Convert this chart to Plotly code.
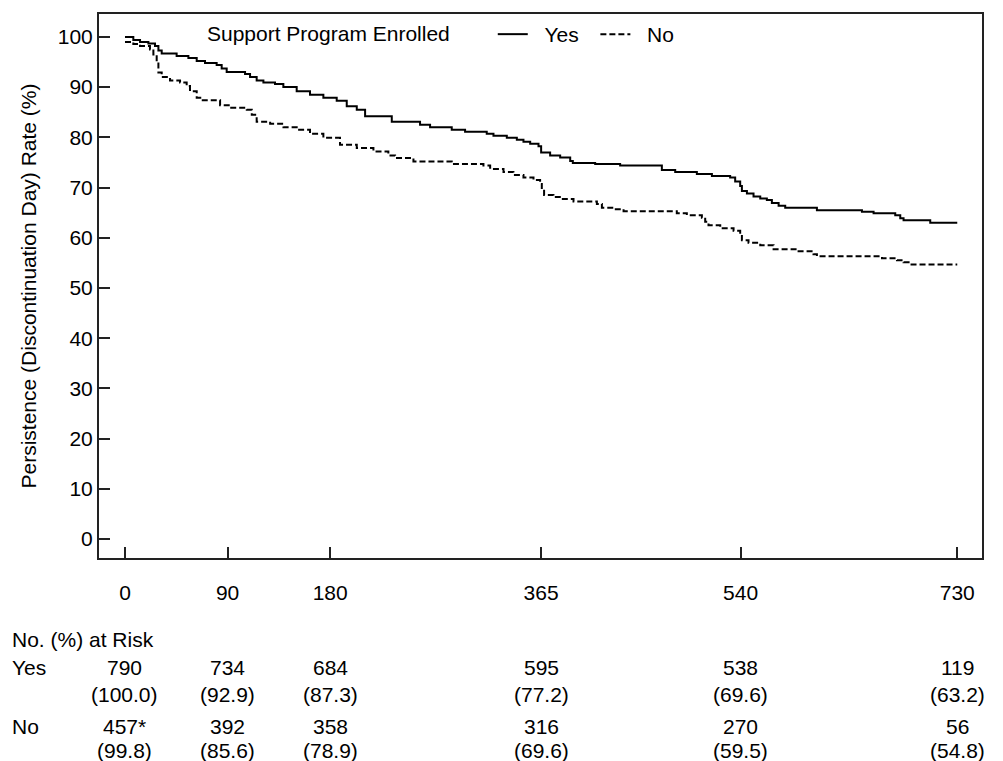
import plotly.graph_objects as go

# Kaplan-Meier style persistence curves
yes_days = [0, 7.3, 13.2, 20.5, 26.3, 29.3, 32.2, 45.3, 55.6, 62.9, 70.2, 80.4, 84.8, 89.2,
            105.3, 109.7, 115.5, 121.4, 131.6, 138.9, 150.6, 162.3, 174, 185.7, 194.5, 203.3,
            210.6, 234, 258.8, 267.6, 286.6, 298.3, 317.3, 323.2, 334.9, 343.7, 349.5, 355.4,
            362.7, 365, 372.9, 381.7, 390.5, 392.8, 412.4, 434.3, 470.9, 482.6, 501.6, 514.8,
            530.8, 535.2, 539.6, 541.1, 545.5, 551.3, 557.2, 563, 567.4, 573.3, 579.1, 606.9,
            646.4, 656.6, 675.6, 680, 682.9, 706.3, 730]
yes_rate = [100, 99.4, 99.0, 98.7, 98.2, 97.3, 96.7, 96.2, 95.8, 95.2, 94.8, 94.4, 93.7, 93.0,
            92.6, 92.0, 91.3, 90.9, 90.6, 90.0, 89.2, 88.5, 87.9, 87.3, 86.2, 85.5,
            84.2, 83.1, 82.5, 82.0, 81.5, 81.1, 80.7, 80.3, 79.9, 79.5, 79.1, 78.7,
            78.2, 77.0, 76.4, 76.0, 75.3, 74.9, 74.7, 74.4, 73.5, 73.1, 72.7, 72.3,
            72.0, 71.2, 70.3, 69.3, 68.8, 68.2, 67.8, 67.5, 66.9, 66.4, 66.0, 65.5,
            65.2, 64.9, 64.5, 63.9, 63.5, 63.0, 63.0]

no_days = [0, 7.3, 13.2, 21.9, 24.9, 27.8, 29.3, 32.2, 39.5, 48.3, 54.1, 57, 62.9, 67.3, 83.4,
           92.2, 106.8, 111.2, 115.5, 127.3, 139, 150.6, 162.3, 174, 188.6, 203.3, 217.9, 231,
           236.9, 253, 286.6, 314.4, 320.3, 332, 340.7, 349.5, 358.3, 364.1, 365.6, 367.6,
           375.8, 383.1, 393.4, 413.9, 418.3, 428.5, 437.3, 484, 492.8, 506, 508.9, 511.8,
           522.1, 533.8, 539.6, 541.1, 546.9, 557.2, 568.9, 590.8, 603.9, 606.9, 664, 677.1,
           682.9, 687.3, 730]
no_rate = [99.0, 98.6, 98.2, 97.5, 96.5, 94.9, 92.9, 92.0, 91.3, 90.9, 90.2, 89.2, 87.9, 87.4, 86.4,
           85.9, 85.5, 84.5, 83.1, 82.7, 82.0, 81.5, 80.7, 79.9, 78.5, 77.9, 77.2, 76.4,
           75.9, 75.2, 74.7, 74.4, 73.7, 73.1, 72.5, 72.0, 71.5, 70.7, 69.6, 68.5,
           68.1, 67.7, 67.2, 66.7, 66.0, 65.7, 65.3, 64.9, 64.5, 64.0, 63.2, 62.5,
           61.9, 61.4, 60.8, 59.5, 59.0, 58.5, 57.7, 57.3, 56.7, 56.3, 55.9, 55.5,
           55.1, 54.7, 54.7]

x_ticks = [0, 90, 180, 365, 540, 730]
y_ticks = [0, 10, 20, 30, 40, 50, 60, 70, 80, 90, 100]

risk_yes_n = ["790", "734", "684", "595", "538", "119"]
risk_yes_pct = ["(100.0)", "(92.9)", "(87.3)", "(77.2)", "(69.6)", "(63.2)"]
risk_no_n = ["457*", "392", "358", "316", "270", "56"]
risk_no_pct = ["(99.8)", "(85.6)", "(78.9)", "(69.6)", "(59.5)", "(54.8)"]

FONT = "Liberation Sans, Arial, sans-serif"
FS = 21

fig = go.Figure()
fig.add_trace(go.Scatter(x=yes_days, y=yes_rate, mode="lines", name="\u00a0\u00a0Yes\u00a0\u00a0",
                         line=dict(color="black", width=2, shape="hv")))
fig.add_trace(go.Scatter(x=no_days, y=no_rate, mode="lines", name="\u00a0\u00a0No",
                         line=dict(color="black", width=2, shape="hv", dash="6px,3px")))

axis_common = dict(showline=True, linecolor="#222222", linewidth=2, mirror=True,
                   ticks="inside", ticklen=11, tickwidth=2, tickcolor="#222222",
                   showgrid=False, zeroline=False,
                   tickfont=dict(family=FONT, size=FS, color="black"))

fig.update_xaxes(range=[-22.8, 751.7], tickmode="array", tickvals=x_ticks,
                 ticktext=[str(v) for v in x_ticks], ticklabelstandoff=15, **axis_common)
fig.update_yaxes(range=[-3.77, 104.56], tickmode="array", tickvals=y_ticks,
                 ticktext=[str(v) for v in y_ticks], ticklabelstandoff=0,
                 title=dict(text="Persistence (Discontinuation Day) Rate (%)",
                            font=dict(family=FONT, size=FS, color="black"), standoff=15),
                 **axis_common)

annotations = []
def row_text(texts, ypaper):
    for xv, t in zip(x_ticks, texts):
        annotations.append(dict(x=xv, xref="x", y=ypaper, yref="paper", text=t,
                                showarrow=False, xanchor="center", yanchor="middle",
                                font=dict(family=FONT, size=FS, color="black")))

label_x = -89 / 883
for txt, yp in [("No. (%) at Risk", -0.150), ("Yes", -0.2015), ("No", -0.3095)]:
    annotations.append(dict(x=label_x, xref="paper", y=yp, yref="paper", text=txt,
                            showarrow=False, xanchor="left", yanchor="middle",
                            font=dict(family=FONT, size=FS, color="black")))
row_text(risk_yes_n, -0.2015)
row_text(risk_yes_pct, -0.251)
row_text(risk_no_n, -0.3095)
row_text(risk_no_pct, -0.3535)

# page has an 8px body margin, so the figure is sized/offset to compensate
fig.update_layout(
    width=995, height=753,
    margin=dict(l=91, r=21, t=4, b=203),
    paper_bgcolor="white", plot_bgcolor="white",
    font=dict(family=FONT, size=FS, color="black"),
    showlegend=True,
    legend=dict(orientation="h", x=0.120, y=1.0, xanchor="left", yanchor="top",
                title=dict(text="Support Program Enrolled      ", side="left",
                           font=dict(family=FONT, size=FS, color="black")),
                font=dict(family=FONT, size=FS, color="black"),
                bgcolor="rgba(0,0,0,0)", borderwidth=0, itemwidth=30),
    annotations=annotations,
)

fig.write_html("out.html")
